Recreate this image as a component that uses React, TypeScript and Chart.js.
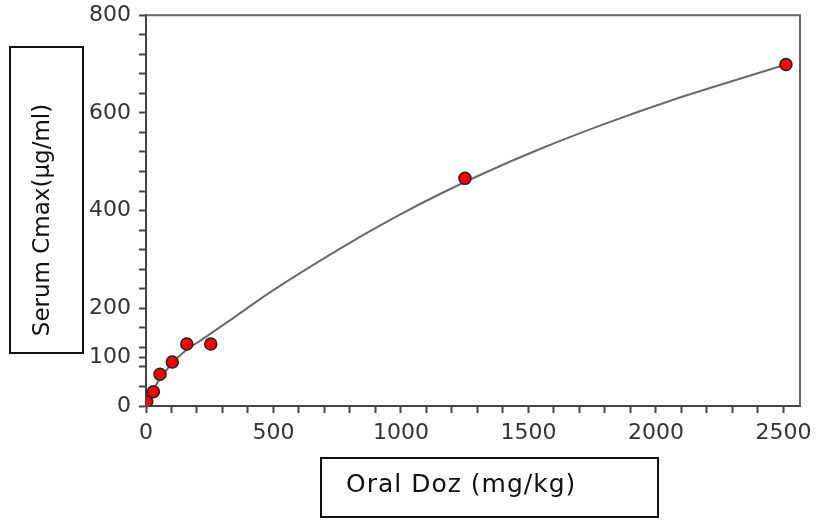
import React, { useEffect, useRef } from "react";
import { Chart, registerables } from "chart.js";

Chart.register(...registerables);

// Measured data points (Oral dose mg/kg vs Serum Cmax µg/ml)
const doseX = [3, 29, 55, 103, 160, 254, 1251, 2510];
const cmaxY = [9, 29, 65, 90, 127, 127, 466, 699];

// Fitted curve
const curveX = [0, 25, 50, 100, 150, 225, 342, 473, 604, 735, 865, 996, 1153, 1323, 1545, 1807, 2068, 2329, 2510];
const curveY = [0, 30, 52, 86, 111, 138, 180, 228, 272, 314, 354, 392, 434, 476, 526, 579, 627, 670, 699];

// Axis ticks
const xTicks = Array.from({ length: 26 }, (_, i) => i * 100);
const xLabels = [0, 500, 1000, 1500, 2000, 2500];
const yTicks = [0, 40, 80, 100, 120, 160, 200, 240, 280, 320, 360, 400, 440, 480, 520, 560, 600, 640, 680, 720, 760, 800];
const yLabels = [0, 100, 200, 400, 600, 800];

const xTitle = "Oral Doz (mg/kg)";
const yTitle = "Serum Cmax(µg/ml)";

const SHIFT = 6; // canvas is drawn 6px higher than the page

const framePlugin = {
  id: "frame",
  afterDraw(chart: any) {
    const { ctx, chartArea } = chart;
    ctx.save();
    // top and right frame
    ctx.strokeStyle = "#666";
    ctx.lineWidth = 2;
    ctx.beginPath();
    ctx.moveTo(chartArea.left, chartArea.top);
    ctx.lineTo(chartArea.right, chartArea.top);
    ctx.lineTo(chartArea.right, chartArea.bottom);
    ctx.stroke();

    ctx.translate(0, SHIFT);
    // title boxes
    ctx.strokeStyle = "#111";
    ctx.lineWidth = 2;
    ctx.strokeRect(10, 47, 73, 306);
    ctx.strokeRect(321, 458, 337, 59);

    ctx.fillStyle = "#111";
    (ctx as any).letterSpacing = "1px";
    ctx.font = "25px 'DejaVu Sans'";
    ctx.textAlign = "left";
    ctx.textBaseline = "alphabetic";
    ctx.fillText(xTitle, 346, 492);

    (ctx as any).letterSpacing = "0px";
    ctx.translate(49, 220);
    ctx.rotate(-Math.PI / 2);
    ctx.font = "23px 'DejaVu Sans'";
    ctx.textAlign = "center";
    ctx.fillText(yTitle, 0, 0);
    ctx.restore();
  },
};

export default function App() {
  const ref = useRef<HTMLCanvasElement>(null);
  useEffect(() => {
    const canvas = ref.current;
    if (!canvas) return;
    const chart = new Chart(canvas, {
      type: "scatter",
      data: {
        datasets: [
          {
            label: "fit",
            data: curveX.map((x, i) => ({ x, y: curveY[i] })),
            showLine: true,
            borderColor: "#6a6a6a",
            borderWidth: 2,
            pointRadius: 0,
            cubicInterpolationMode: "monotone",
            order: 2,
          },
          {
            label: "data",
            data: doseX.map((x, i) => ({ x, y: cmaxY[i] })),
            showLine: false,
            backgroundColor: "#ff0000",
            borderColor: "#222",
            borderWidth: 1.5,
            pointRadius: 6,
            order: 1,
          },
        ],
      },
      options: {
        animation: false,
        responsive: false,
        maintainAspectRatio: false,
        layout: { padding: { left: 0, right: 20, top: 20, bottom: 0 } },
        plugins: { legend: { display: false }, tooltip: { enabled: false } },
        scales: {
          x: {
            type: "linear",
            min: 0,
            max: 2565,
            afterBuildTicks: (axis: any) => {
              axis.ticks = xTicks.map((v) => ({ value: v }));
            },
            afterFit: (scale: any) => {
              scale.height = 117;
            },
            ticks: {
              autoSkip: false,
              maxRotation: 0,
              padding: 7,
              color: "#333",
              font: { family: "'DejaVu Sans'", size: 22 },
              callback: (v: any) => (xLabels.includes(v) ? String(v) : ""),
            },
            grid: {
              drawOnChartArea: false,
              drawTicks: true,
              tickLength: 7,
              tickColor: "#444",
              tickWidth: 2,
            },
            border: { color: "#444", width: 2 },
          },
          y: {
            type: "linear",
            min: 0,
            max: 800,
            afterBuildTicks: (axis: any) => {
              axis.ticks = yTicks.map((v) => ({ value: v }));
            },
            afterFit: (scale: any) => {
              scale.width = 146;
            },
            ticks: {
              autoSkip: false,
              padding: 8,
              color: "#333",
              font: { family: "'DejaVu Sans'", size: 22 },
              callback: (v: any) => (yLabels.includes(v) ? String(v) : ""),
            },
            grid: {
              drawOnChartArea: false,
              drawTicks: true,
              tickLength: 7,
              tickColor: "#444",
              tickWidth: 2,
            },
            border: { color: "#444", width: 2 },
          },
        },
      },
      plugins: [framePlugin],
    } as any);
    return () => chart.destroy();
  }, []);
  return (
    <div style={{ position: "absolute", left: 0, top: 0, width: 820, height: 523, overflow: "hidden", background: "#fff" }}>
      <canvas ref={ref} width={820} height={523 + SHIFT} style={{ display: "block", marginTop: -SHIFT }} />
    </div>
  );
}
